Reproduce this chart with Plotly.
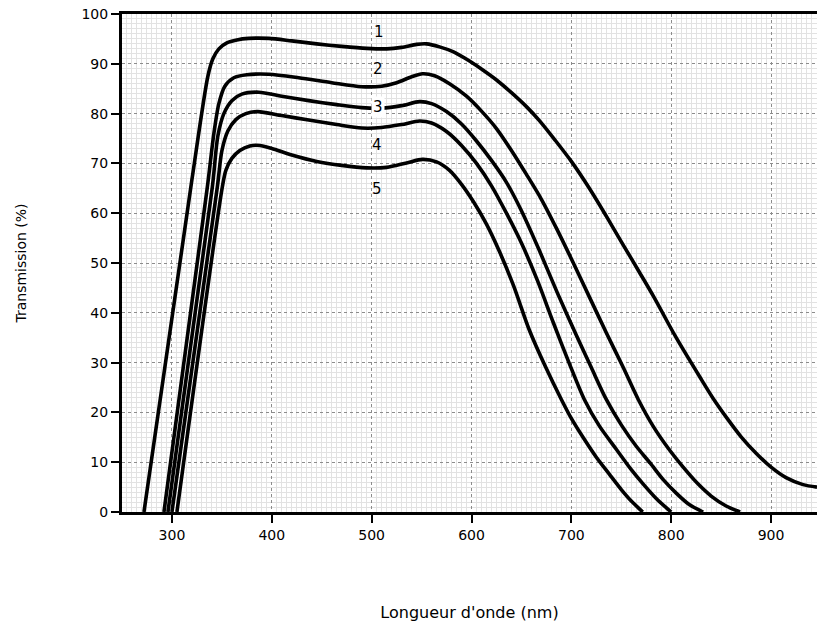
import plotly.graph_objects as go

# Curve 1
c1_x = [272, 320, 336, 341, 347, 355, 365, 377, 397, 420, 445, 470, 495, 515, 530, 545, 555, 568, 582, 596, 611, 626, 640, 655, 668, 684, 700, 718, 735, 752, 768, 782, 805, 829, 842, 856, 870, 885, 900, 915, 932, 946]
c1_y = [0, 66.7, 87.5, 91.0, 93.0, 94.2, 94.8, 95.1, 95.1, 94.6, 94.0, 93.5, 93.1, 93.0, 93.3, 93.9, 94.0, 93.4, 92.4, 90.8, 88.8, 86.6, 84.2, 81.4, 78.6, 74.6, 70.4, 65.0, 59.4, 53.6, 48.2, 43.4, 35.0, 27.0, 22.8, 18.8, 15.1, 11.8, 9.0, 6.9, 5.5, 5.0]
# Curve 2
c2_x = [292, 335.5, 342, 347, 353, 362, 375, 397, 427, 460, 490, 510, 525, 540, 551, 563, 578, 595, 610, 625, 640, 655, 670, 685, 702, 718, 735, 752, 767, 782, 797, 812, 826, 840, 855, 869]
c2_y = [0, 65.3, 76.0, 82.0, 85.5, 87.2, 87.8, 87.9, 87.2, 86.2, 85.4, 85.5, 86.2, 87.4, 88.0, 87.6, 86.0, 83.5, 80.5, 77.0, 72.6, 67.8, 62.8, 57.0, 50.0, 43.2, 36.0, 29.0, 22.6, 17.2, 12.8, 9.0, 5.8, 3.2, 1.2, 0]
# Curve 3
c3_x = [296, 340.5, 346, 352, 360, 370, 387, 410, 437, 465, 490, 510, 530, 548, 560, 575, 590, 605, 620, 635, 650, 668, 686, 705, 720, 735, 750, 765, 779, 792, 805, 818, 832]
c3_y = [0, 65.3, 75.5, 80.0, 82.6, 83.9, 84.3, 83.5, 82.6, 81.8, 81.2, 81.1, 81.6, 82.4, 82.0, 80.4, 77.9, 74.5, 70.6, 66.2, 60.5, 52.5, 44.0, 35.5, 29.0, 22.6, 17.5, 13.2, 9.8, 6.5, 3.8, 1.5, 0]
# Curve 4
c4_x = [300, 345.5, 350, 356, 364, 374, 386, 410, 437, 465, 490, 510, 530, 548, 560, 575, 590, 605, 620, 635, 650, 666, 682, 698, 713, 728, 745, 760, 772, 786, 800]
c4_y = [0, 65.3, 72.5, 76.5, 78.8, 80.0, 80.4, 79.6, 78.7, 77.8, 77.1, 77.2, 77.8, 78.5, 78.1, 76.4, 73.6, 70.0, 65.5, 60.0, 54.0, 46.5, 38.0, 29.8, 22.6, 17.3, 12.6, 8.5, 5.6, 2.5, 0]
# Curve 5
c5_x = [305, 350.5, 354, 360, 368, 378, 388, 400, 420, 445, 470, 495, 515, 535, 551, 565, 578, 590, 602, 615, 628, 642, 658, 674, 690, 700, 712, 725, 738, 750, 760, 771.5]
c5_y = [0, 65.3, 68.6, 71.0, 72.6, 73.5, 73.6, 73.0, 71.7, 70.4, 69.6, 69.1, 69.2, 70.1, 70.8, 70.3, 68.6, 65.8, 62.3, 57.8, 52.3, 45.5, 36.5, 29.2, 22.6, 18.8, 14.9, 11.0, 7.6, 4.5, 2.2, 0]

curve_labels = ["1", "2", "3", "4", "5"]
label_x = [507, 506, 506, 505, 505]
label_y = [96.3, 88.9, 81.3, 73.6, 64.9]

x_range = [250, 946]
y_range = [0, 100]
x_title = "Longueur d'onde (nm)"
y_title = "Transmission (%)"

font_family = "DejaVu Sans"

fig = go.Figure()
for xs, ys in [(c1_x, c1_y), (c2_x, c2_y), (c3_x, c3_y), (c4_x, c4_y), (c5_x, c5_y)]:
    fig.add_trace(go.Scatter(x=xs, y=ys, mode="lines",
                             line=dict(color="black", width=3.6, shape="spline", smoothing=0.8),
                             showlegend=False, hoverinfo="skip"))

for t, xv, yv in zip(curve_labels, label_x, label_y):
    fig.add_annotation(x=xv, y=yv, text=t, showarrow=False,
                       font=dict(family=font_family, size=15, color="black"),
                       bgcolor="white" if t == "3" else "rgba(0,0,0,0)",
                       borderpad=1)

fig.update_layout(
    template="none",
    width=817, height=630,
    margin=dict(l=122, r=0, t=14, b=118),
    paper_bgcolor="white", plot_bgcolor="white",
    font=dict(family=font_family, size=14, color="black"),
    xaxis=dict(range=x_range, dtick=100, tick0=0, ticks="outside", ticklen=8, tickwidth=2,
               tickcolor="black", showline=True, linewidth=3, linecolor="black", mirror=True,
               showgrid=True, gridcolor="#8c8c8c", griddash="dot", gridwidth=1,
               minor=dict(dtick=5, showgrid=True, gridcolor="#e2e2e2", griddash="solid", gridwidth=1),
               zeroline=False, automargin=False, tickfont=dict(size=14),
               title=dict(text=x_title, standoff=66, font=dict(size=16))),
    xaxis2=dict(range=x_range, overlaying="x", anchor="y", dtick=50, tick0=0,
                showticklabels=False, ticks="", showline=False, zeroline=False, automargin=False,
                showgrid=True, gridcolor="#8c8c8c", griddash="dot", gridwidth=1),
    yaxis=dict(range=y_range, dtick=10, ticks="outside", ticklen=8, tickwidth=2,
               tickcolor="black", showline=True, linewidth=3, linecolor="black", mirror=False,
               showgrid=True, gridcolor="#8c8c8c", griddash="dot", gridwidth=1,
               minor=dict(dtick=1, showgrid=True, gridcolor="#e2e2e2", griddash="solid", gridwidth=1),
               zeroline=False, automargin=False, tickfont=dict(size=14),
               title=dict(text=y_title, standoff=52, font=dict(size=14))),
)

fig.write_html("out.html", config={"displayModeBar": False},
               post_script="document.body.style.margin='0';document.body.style.overflow='hidden';")
